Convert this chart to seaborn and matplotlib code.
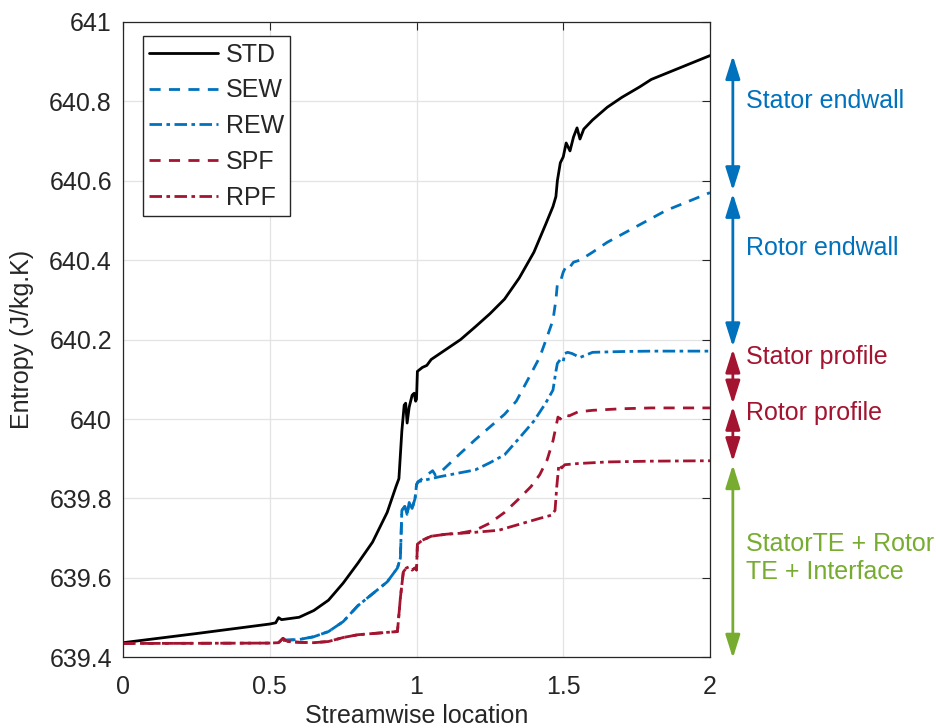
import pandas as pd
import seaborn as sns
import matplotlib.pyplot as plt
from matplotlib.ticker import FuncFormatter, MultipleLocator

# Entropy along the streamwise location
STD_x = [0, 0.25, 0.5, 0.52, 0.53, 0.54, 0.6, 0.65, 0.7, 0.75, 0.8, 0.85, 0.9, 0.93, 0.94,
         0.95, 0.958, 0.963, 0.968, 0.975, 0.985, 0.992, 0.997, 1.0, 1.003, 1.02, 1.035, 1.05,
         1.07, 1.1, 1.15, 1.2, 1.25, 1.3, 1.35, 1.4, 1.44, 1.465, 1.475, 1.48, 1.49, 1.5, 1.51,
         1.523, 1.535, 1.547, 1.557, 1.57, 1.6, 1.65, 1.7, 1.76, 1.8, 1.85, 1.9, 1.95, 2.0]
STD_y = [639.437, 639.46, 639.484, 639.487, 639.50, 639.495, 639.501, 639.518, 639.544, 639.587,
         639.637, 639.69, 639.765, 639.83, 639.85, 639.97, 640.035, 640.04, 639.99, 640.03,
         640.06, 640.065, 640.045, 640.05, 640.12, 640.13, 640.135, 640.15, 640.16, 640.175,
         640.2, 640.232, 640.265, 640.302, 640.355, 640.42, 640.49, 640.535, 640.56, 640.6,
         640.645, 640.66, 640.695, 640.675, 640.71, 640.733, 640.705, 640.73, 640.753, 640.785,
         640.81, 640.836, 640.855, 640.87, 640.885, 640.9, 640.915]

# endwall cases share the first part of the curve
EW_x = [0.545, 0.6, 0.65, 0.7, 0.75, 0.8, 0.85, 0.9, 0.935, 0.945, 0.95, 0.96, 0.968, 0.975,
        0.985, 0.995, 1.0, 1.005]
EW_y = [639.443, 639.445, 639.452, 639.465, 639.49, 639.53, 639.56, 639.59, 639.625, 639.65,
        639.77, 639.78, 639.76, 639.79, 639.775, 639.80, 639.835, 639.842]

SEW_x = EW_x + [1.02, 1.046, 1.055, 1.065, 1.08, 1.15, 1.2, 1.25, 1.3, 1.34, 1.38, 1.42, 1.445,
                1.465, 1.475, 1.48, 1.49, 1.5, 1.51, 1.52, 1.535, 1.557, 1.6, 1.65, 1.7, 1.75,
                1.8, 1.85, 1.9, 1.95, 2.0]
SEW_y = EW_y + [639.85, 639.865, 639.87, 639.858, 639.865, 639.914, 639.948, 639.98, 640.012,
                640.045, 640.1, 640.156, 640.207, 640.249, 640.3, 640.34, 640.345, 640.37,
                640.385, 640.38, 640.395, 640.4, 640.42, 640.445, 640.465, 640.485, 640.505,
                640.525, 640.54, 640.555, 640.57]

REW_x = EW_x + [1.02, 1.05, 1.08, 1.15, 1.2, 1.25, 1.3, 1.35, 1.4, 1.44, 1.465, 1.475, 1.48,
                1.49, 1.5, 1.505, 1.515, 1.53, 1.557, 1.6, 1.7, 1.8, 2.0]
REW_y = EW_y + [639.845, 639.85, 639.855, 639.865, 639.872, 639.89, 639.91, 639.952, 639.995,
                640.04, 640.073, 640.12, 640.14, 640.15, 640.145, 640.165, 640.168, 640.165,
                640.155, 640.168, 640.17, 640.171, 640.171]

# profile cases share the first part too
PF_x = [0, 0.5, 0.53, 0.545, 0.56, 0.6, 0.65, 0.7, 0.75, 0.8, 0.85, 0.9, 0.935, 0.945, 0.955,
        0.965, 0.975, 0.985, 0.995, 1.0, 1.003, 1.02, 1.05, 1.08, 1.1]
PF_y = [639.435, 639.436, 639.437, 639.448, 639.44, 639.438, 639.437, 639.44, 639.45, 639.457,
        639.46, 639.463, 639.465, 639.55, 639.615, 639.625, 639.628, 639.62, 639.625, 639.62,
        639.685, 639.695, 639.705, 639.708, 639.71]

SPF_x = PF_x + [1.15, 1.2, 1.25, 1.3, 1.35, 1.39, 1.42, 1.445, 1.465, 1.475, 1.482, 1.49, 1.5,
                1.52, 1.55, 1.6, 1.7, 1.8, 2.0]
SPF_y = PF_y + [639.713, 639.72, 639.738, 639.765, 639.8, 639.83, 639.86, 639.897, 639.945,
                639.98, 640.005, 640.0, 640.012, 640.008, 640.018, 640.022, 640.026, 640.028,
                640.028]

RPF_x = PF_x + [1.2, 1.28, 1.35, 1.42, 1.46, 1.472, 1.478, 1.485, 1.495, 1.505, 1.55, 1.65,
                1.8, 2.0]
RPF_y = PF_y + [639.715, 639.72, 639.735, 639.75, 639.758, 639.77, 639.83, 639.885, 639.877,
                639.885, 639.888, 639.892, 639.894, 639.895]

series = ['STD', 'SEW', 'REW', 'SPF', 'RPF']
xs = [STD_x, SEW_x, REW_x, SPF_x, RPF_x]
ys = [STD_y, SEW_y, REW_y, SPF_y, RPF_y]

# contribution brackets on the right
bands = ['Stator endwall', 'Rotor endwall', 'Stator profile', 'Rotor profile',
         'StatorTE + Rotor\nTE + Interface']
band_top = [640.915, 640.568, 640.176, 640.032, 639.885]
band_bot = [640.575, 640.182, 640.038, 639.893, 639.398]
band_text_y = [640.80, 640.43, 640.156, 640.015, 639.65]

blue = '#0072BD'
red = '#A2142F'
green = '#77AC30'
band_colors = [blue, blue, red, red, green]

df = pd.concat([pd.DataFrame({'x': x, 'y': y, 'case': s}) for s, x, y in zip(series, xs, ys)])

sns.set_style('white')
plt.rcParams['font.family'] = ['Liberation Sans', 'DejaVu Sans']

fig = plt.figure(figsize=(9.36, 7.28), dpi=100)
ax = fig.add_axes([0.1315, 0.097, 0.627, 0.873])

palette = {'STD': 'black', 'SEW': blue, 'REW': blue, 'SPF': red, 'RPF': red}
dashes = {'STD': '', 'SEW': (4, 3), 'REW': (4.5, 1.6, 1.3, 1.6),
          'SPF': (4, 3), 'RPF': (4.5, 1.6, 1.3, 1.6)}
sns.lineplot(data=df, x='x', y='y', hue='case', style='case', hue_order=series,
             style_order=series, palette=palette, dashes=dashes, estimator=None,
             sort=False, lw=2, ax=ax)

ax.set_xlim(0, 2)
ax.set_ylim(639.4, 641)
ax.xaxis.set_major_locator(MultipleLocator(0.5))
ax.yaxis.set_major_locator(MultipleLocator(0.2))
ax.xaxis.set_major_formatter(FuncFormatter(lambda v, p: f'{round(v, 2):g}'))
ax.yaxis.set_major_formatter(FuncFormatter(lambda v, p: f'{round(v, 1):g}'))
ax.grid(True, color='#e3e3e3', lw=0.9)
ax.set_axisbelow(True)
ax.tick_params(direction='in', top=True, right=True, length=6, width=0.8,
               labelsize=18, colors='#262626')
ax.tick_params(axis='x', pad=13)
ax.tick_params(axis='y', pad=8)
for sp in ax.spines.values():
    sp.set_color('#262626')
    sp.set_linewidth(0.9)

ax.set_xlabel('Streamwise location', fontsize=18, color='#262626', labelpad=3)
ax.set_ylabel('Entropy (J/kg.K)', fontsize=18, color='#262626', labelpad=11)

handles, labels = ax.get_legend_handles_labels()
ax.legend(handles, labels, loc='upper left', bbox_to_anchor=(0.034, 0.977), borderaxespad=0,
          fontsize=18, handlelength=2.75, handletextpad=0.3, labelspacing=0.47, borderpad=0.25,
          frameon=True, fancybox=False, edgecolor='#262626', framealpha=1)

# arrows and labels outside the axes
trans = ax.get_yaxis_transform()
for name, lo, hi, ty, c in zip(bands, band_bot, band_top, band_text_y, band_colors):
    ax.annotate('', xy=(1.039, hi), xytext=(1.039, lo), xycoords=trans, textcoords=trans,
                annotation_clip=False,
                arrowprops=dict(arrowstyle='<|-|>,head_length=0.7,head_width=0.22',
                                color=c, lw=2, mutation_scale=20,
                                shrinkA=0, shrinkB=0))
    ax.text(1.062, ty, name, transform=trans, color=c, fontsize=18, va='center',
            ha='left', linespacing=1.25, clip_on=False)

fig.savefig('out.png', dpi=100)
